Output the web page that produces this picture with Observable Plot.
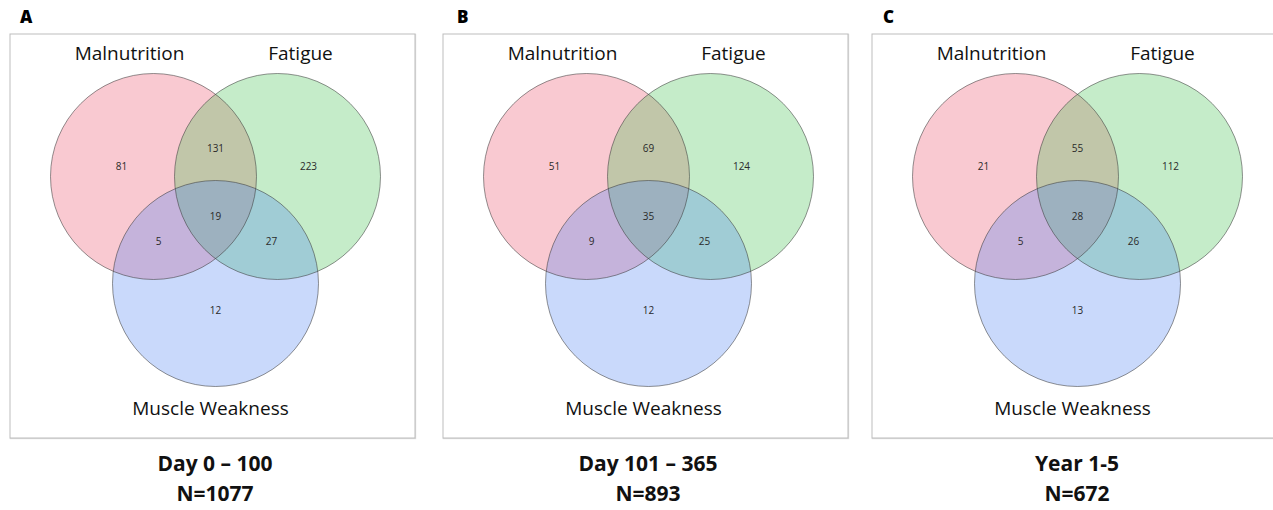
<!DOCTYPE html>
<html>
<head>
<meta charset="utf-8">
<script src="https://cdn.jsdelivr.net/npm/d3@7"></script>
<script src="https://cdn.jsdelivr.net/npm/@observablehq/plot@0.6"></script>
<style>
  html, body { margin: 0; padding: 0; background: #fff; }
  body { width: 1273px; height: 510px; overflow: hidden; position: relative; font-family: "Open Sans", sans-serif; }
  .letter { position: absolute; top: 5px; font-weight: 800; font-size: 17px; color: #000; font-family: "Open Sans", sans-serif; }
  .box { position: absolute; top: 33px; height: 405px; box-shadow: 1px 1px 1px #ddd; }
  .caption { position: absolute; top: 448px; width: 300px; text-align: center; font-weight: 700; font-size: 21px; line-height: 30px; color: #111; }
</style>
</head>
<body>
<script>
// ---- data ----
const panels = ["A", "B", "C"];
const periods = ["Day 0 \u2013 100", "Day 101 \u2013 365", "Year 1-5"];
const totals = [1077, 893, 672];
const sets = ["Malnutrition", "Fatigue", "Muscle Weakness"];
const regions = ["M", "F", "W", "MF", "MW", "FW", "MFW"];
const countsA = [81, 223, 12, 131, 5, 27, 19];
const countsB = [51, 124, 12, 69, 9, 25, 35];
const countsC = [21, 112, 13, 55, 5, 26, 28];
const counts = [countsA, countsB, countsC];
const setColors = ["#eb4b66", "#3ec04b", "#4b80f2"];

// ---- layout of a standard 3-set Venn (pixels relative to centroid) ----
const boxWidths = [406, 406, 412];
const boxH = 405;
const centroid = [206, 179];
const radius = 103;
const setOffsets = [[-62, -36], [62, -36], [0, 71]];
const labelOffsets = [[-86, -159], [85, -159], [-5, 196]];
const regionOffsets = {M: [-94, -46], F: [93, -46], W: [0, 98], MF: [0, -64], MW: [-57, 29], FW: [56, 29], MFW: [0, 4]};
const boxLefts = [9, 442, 871];
const letterLefts = [20, 457, 883];

panels.forEach((p, i) => {
  const boxW = boxWidths[i];
  const circles = sets.map((s, j) => ({set: s, color: setColors[j], x: centroid[0] + setOffsets[j][0], y: centroid[1] + setOffsets[j][1]}));
  const labels = sets.map((s, j) => ({set: s, x: centroid[0] + labelOffsets[j][0], y: centroid[1] + labelOffsets[j][1]}));
  const regionData = regions.map((r, k) => ({region: r, n: counts[i][k], x: centroid[0] + regionOffsets[r][0], y: centroid[1] + regionOffsets[r][1]}));

  const chart = Plot.plot({
    width: boxW, height: boxH,
    margin: 0,
    x: {domain: [0, boxW], range: [0, boxW], axis: null},
    y: {domain: [0, boxH], range: [0, boxH], axis: null},
    style: {fontFamily: "'Open Sans', sans-serif", background: "white", overflow: "visible"},
    marks: [
      Plot.frame({stroke: "#bdbdbd", inset: 0.5}),
      Plot.dot(circles, {x: "x", y: "y", r: radius, fill: "color", fillOpacity: 0.3, stroke: "none"}),
      Plot.dot(circles, {x: "x", y: "y", r: radius, fill: "none", stroke: "#3a3a3a", strokeOpacity: 0.55, strokeWidth: 1}),
      Plot.text(regionData, {x: "x", y: "y", text: d => String(d.n), fontSize: 10, fill: "#2a2a2a"}),
      Plot.text(labels, {x: "x", y: "y", text: "set", fontSize: 19, fill: "#111"})
    ]
  });

  const letter = document.createElement("div");
  letter.className = "letter";
  letter.style.left = letterLefts[i] + "px";
  letter.textContent = p;
  document.body.appendChild(letter);

  const box = document.createElement("div");
  box.className = "box";
  box.style.left = boxLefts[i] + "px";
  box.style.width = boxW + "px";
  box.appendChild(chart);
  document.body.appendChild(box);

  const cap = document.createElement("div");
  cap.className = "caption";
  cap.style.left = (boxLefts[i] + centroid[0] - 150) + "px";
  const l1 = document.createElement("div"); l1.textContent = periods[i];
  const l2 = document.createElement("div"); l2.textContent = "N=" + totals[i];
  cap.appendChild(l1); cap.appendChild(l2);
  document.body.appendChild(cap);
});
</script>
</body>
</html>
